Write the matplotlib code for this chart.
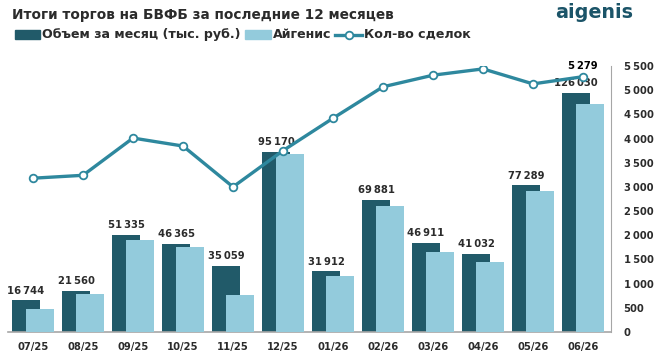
import matplotlib.pyplot as plt
import numpy as np

months = ["07/25", "08/25", "09/25", "10/25", "11/25", "12/25",
          "01/26", "02/26", "03/26", "04/26", "05/26", "06/26"]
volume = [16744, 21560, 51335, 46365, 35059, 95170,
          31912, 69881, 46911, 41032, 77289, 126030]
aigenis = [12100, 20000, 48500, 44800, 19500, 93900,
           29500, 66400, 42200, 36900, 74300, 120200]
deals = [3180, 3240, 4010, 3845, 3000, 3750,
         4420, 5070, 5310, 5440, 5130, 5279]
right_ticks = [0, 500, 1000, 1500, 2000, 2500, 3000, 3500, 4000, 4500, 5000, 5500]

dark = "#215a69"
light = "#93cbdc"
line_c = "#2e889e"
text_c = "#2b2b2b"

plt.rcParams["font.family"] = ["DejaVu Sans"]


def fmt(v):
    return f"{v:,}".replace(",", "\u2009")


fig = plt.figure(figsize=(6.59, 3.6), dpi=100)
ax = fig.add_axes([8 / 659, 1 - 332 / 360, (611 - 8) / 659, (332 - 66) / 360])
x = np.arange(len(months))

ax.bar(x - 0.14, volume, width=0.56, color=dark, zorder=2)
ax.bar(x + 0.14, aigenis, width=0.56, color=light, zorder=3)
ax.set_ylim(0, 140300)
ax.set_xlim(-0.5, 11.56)
for xi, v in zip(x, volume):
    ax.text(xi - 0.14, v + 2500, fmt(v), ha="center", va="bottom",
            fontsize=7.2, fontweight="bold", color=text_c, zorder=5)

ax.set_xticks(x, months)
ax.tick_params(axis="x", length=0, pad=7, labelsize=7.2, labelcolor=text_c)
for lbl in ax.get_xticklabels():
    lbl.set_fontweight("bold")
ax.set_yticks([])
for s in ["top", "left", "right"]:
    ax.spines[s].set_visible(False)
ax.spines["bottom"].set_color("#a6a6a6")
ax.spines["bottom"].set_linewidth(1.2)

ax2 = ax.twinx()
ax2.plot(x, deals, color=line_c, lw=2.4, marker="o", ms=5.5,
         mfc="white", mec=line_c, mew=1.3, zorder=6)
ax2.set_ylim(0, 5500)
ax2.set_yticks(right_ticks, [fmt(t) for t in right_ticks])
ax2.tick_params(axis="y", length=0, pad=9, labelsize=7.2, labelcolor=text_c)
for lbl in ax2.get_yticklabels():
    lbl.set_fontweight("bold")
for s in ["top", "left", "bottom"]:
    ax2.spines[s].set_visible(False)
ax2.spines["right"].set_color("#a6a6a6")
ax2.text(x[-1], deals[-1] + 120, fmt(deals[-1]), ha="center", va="bottom",
         fontsize=7.2, fontweight="bold", color="black")

fig.text(12 / 659, 1 - 15.5 / 360, "Итоги торгов на БВФБ за последние 12 месяцев",
         fontsize=9.8, fontweight="bold", color=text_c, va="center")
fig.text(633 / 659, 1 - 13 / 360, "aigenis", fontsize=13.8, fontweight="bold",
         color="#1b5468", ha="right", va="center")

# legend row, laid out left to right in pixels
renderer = fig.canvas.get_renderer()
ly = 1 - 34.5 / 360
fs = 9.1
px = 15


def add_label(s, xpos):
    t = fig.text(xpos / 659, ly, s, fontsize=fs, fontweight="bold",
                 color=text_c, va="center")
    return t.get_window_extent(renderer).x1


fig.patches.append(plt.Rectangle((px / 659, ly - 4.5 / 360), 25 / 659, 9 / 360,
                                 transform=fig.transFigure, color=dark))
px = add_label("Объем за месяц (тыс. руб.)", px + 27) + 5
fig.patches.append(plt.Rectangle((px / 659, ly - 4.5 / 360), 25 / 659, 9 / 360,
                                 transform=fig.transFigure, color=light))
px = add_label("Айгенис", px + 27) + 4
fig.lines.append(plt.Line2D([px / 659, (px + 27) / 659], [ly, ly],
                            transform=fig.transFigure, color=line_c, lw=2.4))
fig.lines.append(plt.Line2D([(px + 13.5) / 659], [ly], transform=fig.transFigure,
                            color=line_c, marker="o", ms=5.5, mfc="white",
                            mec=line_c, mew=1.3, lw=0))
add_label("Кол-во сделок", px + 29)

fig.savefig("out.png", dpi=100)
